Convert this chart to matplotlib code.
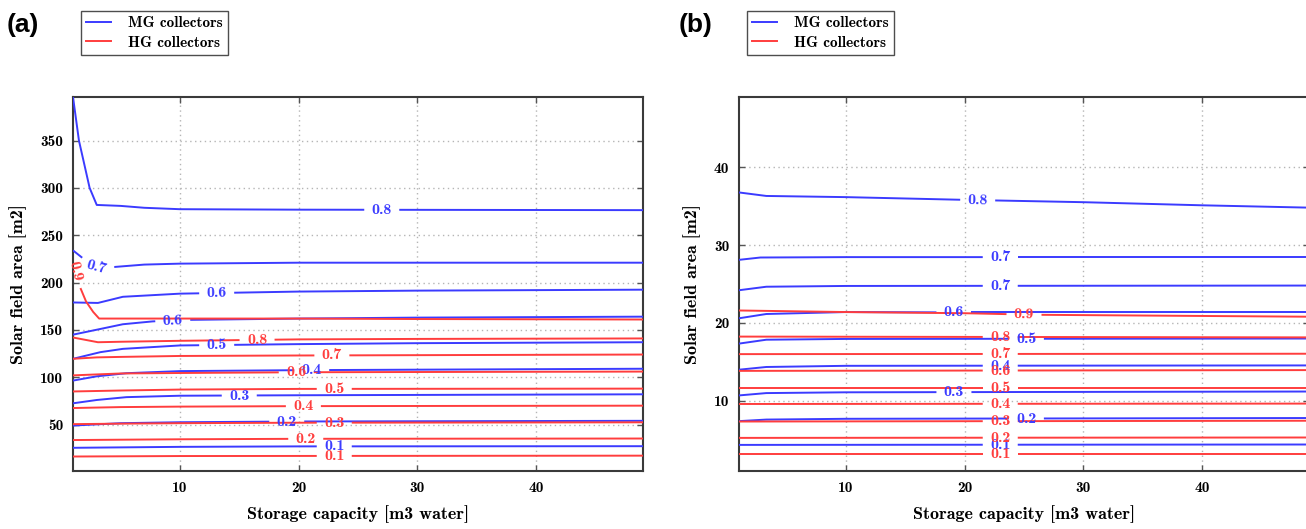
import numpy as np
import matplotlib
matplotlib.use("Agg")
import matplotlib.pyplot as plt
from matplotlib.lines import Line2D

# ---------------- data ----------------
x_label = "Storage capacity [m3 water]"
y_label = "Solar field area [m2]"
series_names = ["MG collectors", "HG collectors"]

# Panel (a) -- MG collectors (blue)
a_mg_levels = ["0.8", "0.7", "0.6", "0.6", "0.5", "0.4", "0.3", "0.2", "0.1"]
a_mg_x = [
    [1, 1.5, 2.4, 3.0, 5, 7, 10, 20, 49],
    [1, 1.5, 2.0, 3.0, 4.5, 7, 10, 20, 49],
    [1, 3.1, 5.2, 10, 20, 30, 49],
    [1, 3.3, 5.2, 7.7, 10, 20, 30, 49],
    [1, 3.3, 5.2, 10, 20, 30, 49],
    [1, 3, 5.5, 10, 20, 49],
    [1, 3, 5.5, 10, 20, 49],
    [1, 5, 10, 20, 49],
    [1, 10, 20, 49],
]
a_mg_y = [
    [396, 350, 300, 282, 281, 279, 277.5, 277, 276.5],
    [234, 229, 224, 216, 216.5, 219, 220, 221, 221],
    [179, 178.5, 185, 188.3, 190.5, 191.5, 192.5],
    [145, 151, 156, 159, 160.5, 162, 163, 164],
    [119.5, 126.5, 130, 133.6, 135, 136, 137],
    [96.5, 101, 104.3, 106.5, 107.5, 109],
    [72.5, 76, 79, 80.5, 81, 82],
    [49, 51.5, 52.5, 53.3, 54],
    [25.5, 26.5, 27, 27.2],
]
a_mg_label_x = [27, 3.0, 13.1, 9.4, 13.1, 21.1, 15, 19, 23]

# Panel (a) -- HG collectors (red)
a_hg_levels = ["0.9", "0.8", "0.7", "0.6", "0.5", "0.4", "0.3", "0.2", "0.1"]
a_hg_x = [
    [1, 1.25, 1.5, 2.1, 2.7, 3.2, 5, 10, 20, 30, 49],
    [1, 3.1, 5, 10, 20, 30, 49],
    [1, 3, 5, 10, 20, 49],
    [1, 3, 5, 10, 20, 49],
    [1, 5, 10, 20, 49],
    [1, 5, 10, 20, 49],
    [1, 5, 10, 20, 49],
    [1, 10, 20, 49],
    [1, 10, 49],
]
a_hg_y = [
    [228, 212, 198, 180, 169, 162, 162, 162, 162, 161.5, 161],
    [142, 137, 137.5, 138.5, 140, 140.5, 141],
    [119.5, 121, 121.5, 122.5, 123, 124],
    [102, 103, 104, 104.5, 105.3, 106],
    [85, 86, 87, 87.7, 88],
    [67.5, 68.5, 69, 69.5, 70],
    [50.5, 51, 51.5, 52, 52.4],
    [33.7, 34.5, 35, 35.3],
    [16.3, 16.8, 17.2],
]
a_hg_label_x = [1.25, 16.5, 22.8, 19.8, 23, 20.4, 23, 20.6, 23]

# Panel (b) -- MG collectors (blue)
b_mg_levels = ["0.8", "0.7", "0.7", "0.6", "0.5", "0.4", "0.3", "0.2", "0.1"]
b_mg_x = [
    [1, 3.3, 10, 20, 30, 40, 49],
    [1, 2.8, 10, 49],
    [1, 3.3, 10, 49],
    [1, 3.3, 10, 20, 49],
    [1, 3.3, 10, 49],
    [1, 3.3, 10, 49],
    [1, 3.3, 10, 49],
    [1, 3.3, 10, 49],
    [1, 49],
]
b_mg_y = [
    [36.75, 36.3, 36.15, 35.8, 35.5, 35.1, 34.8],
    [28.1, 28.4, 28.45, 28.45],
    [24.2, 24.65, 24.75, 24.8],
    [20.6, 21.15, 21.4, 21.35, 21.35],
    [17.35, 17.85, 17.95, 18.0],
    [14.0, 14.35, 14.5, 14.55],
    [10.7, 11.0, 11.1, 11.2],
    [7.4, 7.6, 7.7, 7.8],
    [4.35, 4.4],
]
b_mg_label_x = [21.1, 23, 23, 19.1, 25.2, 23, 19.1, 25.2, 23]

# Panel (b) -- HG collectors (red)
b_hg_levels = ["0.9", "0.8", "0.7", "0.6", "0.5", "0.4", "0.3", "0.2", "0.1"]
b_hg_x = [
    [1, 10, 20, 26, 49],
    [1, 49],
    [1, 49],
    [1, 49],
    [1, 49],
    [1, 49],
    [1, 49],
    [1, 49],
    [1, 49],
]
b_hg_y = [
    [21.6, 21.4, 21.25, 21.05, 20.8],
    [18.25, 18.15],
    [16.0, 16.05],
    [13.85, 13.95],
    [11.7, 11.7],
    [9.6, 9.65],
    [7.35, 7.45],
    [5.25, 5.3],
    [3.15, 3.15],
]
b_hg_label_x = [25, 23, 23, 23, 23, 23, 23, 23, 23]

# ---------------- style ----------------
W, H = 1306, 529
BLUE = "#3b3bff"
RED = "#ff3d3d"
SERIF = "cmb10"
LW = 1.4
GAP_PX = 17.5

fig = plt.figure(figsize=(W / 100, H / 100), dpi=100)


def px_axes(left, top, right, bottom):
    return fig.add_axes([left / W, 1 - bottom / H, (right - left) / W, (bottom - top) / H])


def draw_line(ax, xs, ys, color, text, lx):
    xs = np.asarray(xs, float)
    ys = np.asarray(ys, float)
    pts = ax.transData.transform(np.column_stack([xs, ys]))
    seg = np.hypot(np.diff(pts[:, 0]), np.diff(pts[:, 1]))
    s = np.concatenate([[0.0], np.cumsum(seg)])
    ly = np.interp(lx, xs, ys)
    lp = ax.transData.transform((lx, ly))
    i = int(np.clip(np.searchsorted(xs, lx) - 1, 0, len(xs) - 2))
    s0 = s[i] + np.hypot(*(lp - pts[i]))
    sa, sb = s0 - GAP_PX, s0 + GAP_PX

    def at(sv):
        return np.array([np.interp(sv, s, pts[:, 0]), np.interp(sv, s, pts[:, 1])])

    inv = ax.transData.inverted()
    pa, pb = at(max(sa, 0)), at(min(sb, s[-1]))
    left = [p for p, sv in zip(pts, s) if sv < sa]
    if sa > 0:
        left.append(pa)
    right = [pb] if sb < s[-1] else []
    right += [p for p, sv in zip(pts, s) if sv > sb]
    for part in (left, right):
        if len(part) >= 2:
            d = inv.transform(np.array(part))
            ax.plot(d[:, 0], d[:, 1], color=color, lw=LW, solid_capstyle="butt", zorder=3)
    ang = np.degrees(np.arctan2(pb[1] - pa[1], pb[0] - pa[0]))
    ax.text(lx, ly, text, color=color, fontsize=11.5, family=SERIF, ha="center",
            va="center", rotation=ang, rotation_mode="anchor", zorder=4)


def setup(ax, ylim, yticks, ylabel_x):
    ax.set_xlim(1, 49)
    ax.set_ylim(*ylim)
    ax.set_xticks([10, 20, 30, 40])
    ax.set_yticks(yticks)
    ax.grid(True, color="#b5b5b5", linestyle=(0, (1, 2.5)), linewidth=1.0, zorder=0)
    ax.tick_params(direction="in", length=4, width=1, color="#555555", top=True, right=True,
                   labelsize=11, pad=7)
    for lab in ax.get_xticklabels() + ax.get_yticklabels():
        lab.set_family(SERIF)
    for sp in ax.spines.values():
        sp.set_color("#3a3a3a")
        sp.set_linewidth(1.5)
    ax.set_xlabel(x_label, family=SERIF, fontsize=13)
    ax.set_ylabel(y_label, family=SERIF, fontsize=13)
    ax.xaxis.set_label_coords(0.5, -0.092)
    ax.yaxis.set_label_coords(ylabel_x, 0.5)
    ax.set_axisbelow(True)


ax_a = px_axes(73, 97, 643, 471)
setup(ax_a, (1, 396), [50, 100, 150, 200, 250, 300, 350], -0.08)
ax_b = px_axes(739, 97, 1309, 471)
setup(ax_b, (1, 49), [10, 20, 30, 40], -0.066)

for ax, groups in (
    (ax_a, [(a_mg_x, a_mg_y, a_mg_levels, a_mg_label_x, BLUE),
            (a_hg_x, a_hg_y, a_hg_levels, a_hg_label_x, RED)]),
    (ax_b, [(b_mg_x, b_mg_y, b_mg_levels, b_mg_label_x, BLUE),
            (b_hg_x, b_hg_y, b_hg_levels, b_hg_label_x, RED)]),
):
    for xs_list, ys_list, levels, lxs, col in groups:
        for xs, ys, lev, lx in zip(xs_list, ys_list, levels, lxs):
            draw_line(ax, xs, ys, col, lev, lx)

# panel letters and legends
for letter, lx_px, leg_px in (("(a)", 7, 81), ("(b)", 679, 747)):
    fig.text(lx_px / W, 1 - 25 / H, letter, family="Liberation Sans", weight="bold",
             fontsize=19, ha="left", va="center")
    handles = [Line2D([], [], color=BLUE, lw=LW), Line2D([], [], color=RED, lw=LW)]
    leg = fig.legend(handles, series_names, loc="upper left",
                     bbox_to_anchor=(leg_px / W, 1 - 11 / H), borderaxespad=0,
                     prop={"family": SERIF, "size": 11}, frameon=True, fancybox=False,
                     edgecolor="#222222", handlelength=1.6, handletextpad=1.1,
                     labelspacing=0.35, borderpad=0.35)
    leg.get_frame().set_linewidth(1.0)

fig.savefig("out.png", dpi=100)
